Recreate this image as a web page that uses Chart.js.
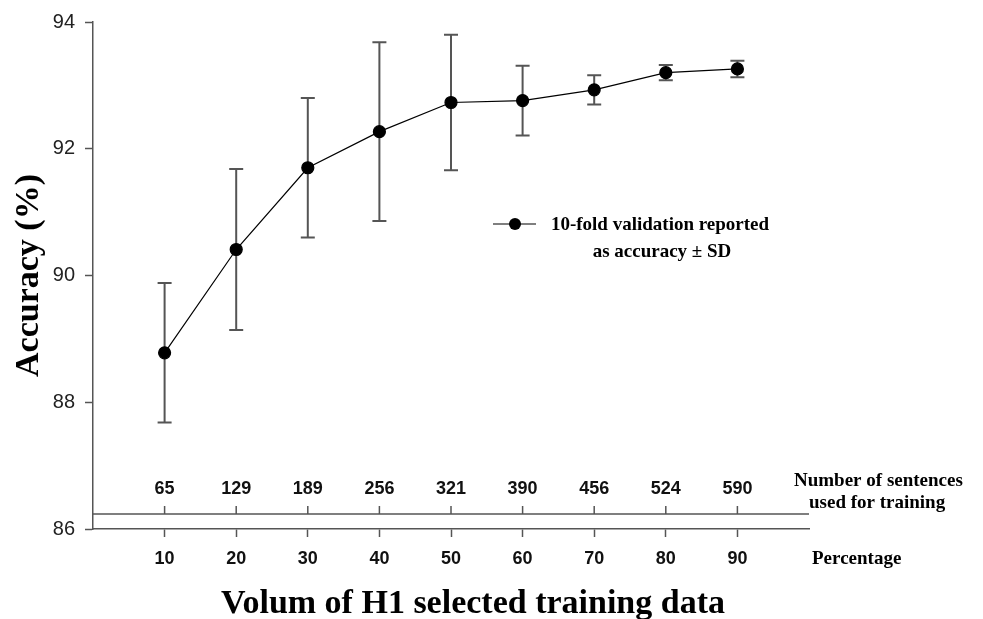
<!DOCTYPE html>
<html>
<head>
<meta charset="utf-8">
<title>Accuracy vs training data</title>
<script src="https://cdn.jsdelivr.net/npm/chart.js@4.4.0/dist/chart.umd.min.js"></script>
<style>
    body { margin: 0; background: #fff; }
    #grafico { display: block; }
</style>
</head>
<body>
<canvas id="grafico" width="983" height="619"></canvas>
<script>
var percentuali = [10, 20, 30, 40, 50, 60, 70, 80, 90];
var frasi = [65, 129, 189, 256, 321, 390, 456, 524, 590];
var accuratezza = [88.78, 90.41, 91.70, 92.27, 92.73, 92.76, 92.93, 93.20, 93.26];
var deviazione = [1.10, 1.27, 1.10, 1.41, 1.07, 0.55, 0.23, 0.12, 0.13];
var tickY = [86, 88, 90, 92, 94];

var grigio = '#555555';
var serif = "'Liberation Serif', 'Times New Roman', serif";
var sans = "'Liberation Sans', Arial, sans-serif";

var punti = [];
for (var i = 0; i < percentuali.length; i++) {
    punti.push({x: percentuali[i], y: accuratezza[i]});
}

// barre di errore, disegnate sotto i punti
var barreErrore = {
    id: 'barreErrore',
    beforeDatasetsDraw: function (chart) {
        var ctx = chart.ctx;
        var x = chart.scales.x;
        var y = chart.scales.y;
        ctx.save();
        ctx.strokeStyle = grigio;
        ctx.lineWidth = 2;
        for (var i = 0; i < percentuali.length; i++) {
            var px = x.getPixelForValue(percentuali[i]);
            var top = y.getPixelForValue(accuratezza[i] + deviazione[i]);
            var bot = y.getPixelForValue(accuratezza[i] - deviazione[i]);
            ctx.beginPath();
            ctx.moveTo(px, top);
            ctx.lineTo(px, bot);
            ctx.moveTo(px - 7, top);
            ctx.lineTo(px + 7, top);
            ctx.moveTo(px - 7, bot);
            ctx.lineTo(px + 7, bot);
            ctx.stroke();
        }
        ctx.restore();
    }
};

// asse secondario col numero di frasi, titolo x e legenda
var extra = {
    id: 'extra',
    afterDraw: function (chart) {
        var ctx = chart.ctx;
        var area = chart.chartArea;
        var x = chart.scales.x;
        var lineaY = area.bottom - 15;
        ctx.save();
        ctx.strokeStyle = grigio;
        ctx.lineWidth = 1.5;
        ctx.beginPath();
        ctx.moveTo(area.left, lineaY);
        ctx.lineTo(area.right, lineaY);
        for (var i = 0; i < percentuali.length; i++) {
            var px = x.getPixelForValue(percentuali[i]);
            ctx.moveTo(px, lineaY);
            ctx.lineTo(px, lineaY - 8);
        }
        ctx.stroke();

        ctx.fillStyle = '#111';
        ctx.font = 'bold 18px ' + sans;
        ctx.textAlign = 'center';
        ctx.textBaseline = 'middle';
        for (var i = 0; i < frasi.length; i++) {
            ctx.fillText(String(frasi[i]), x.getPixelForValue(percentuali[i]), lineaY - 25);
        }

        ctx.font = 'bold 19px ' + serif;
        ctx.fillStyle = '#000';
        ctx.textAlign = 'left';
        ctx.fillText('Number of sentences', 794, 481);
        ctx.fillText('used for training', 809, 503);
        ctx.fillText('Percentage', 812, 559);

        // titolo asse x
        ctx.font = 'bold 34px ' + serif;
        ctx.textAlign = 'center';
        ctx.textBaseline = 'alphabetic';
        ctx.fillText('Volum of H1 selected training data', 473, 613);

        // legenda
        ctx.textBaseline = 'middle';
        ctx.font = 'bold 19px ' + serif;
        ctx.strokeStyle = '#000';
        ctx.lineWidth = 1.2;
        ctx.beginPath();
        ctx.moveTo(493, 224);
        ctx.lineTo(536, 224);
        ctx.stroke();
        ctx.beginPath();
        ctx.arc(515, 224, 6, 0, Math.PI * 2);
        ctx.fill();
        ctx.fillText('10-fold validation reported', 660, 225);
        ctx.fillText('as accuracy \u00b1 SD', 662, 252);
        ctx.restore();
    }
};

var chart = new Chart(document.getElementById('grafico'), {
    type: 'line',
    data: {
        datasets: [{
            label: '10-fold validation reported as accuracy \u00b1 SD',
            data: punti,
            borderColor: '#000',
            borderWidth: 1.2,
            backgroundColor: '#000',
            pointBackgroundColor: '#000',
            pointBorderColor: '#000',
            pointRadius: 6,
            tension: 0
        }]
    },
    options: {
        responsive: false,
        animation: false,
        layout: {padding: {left: 0, right: 174, top: 22, bottom: 0}},
        plugins: {
            legend: {display: false},
            tooltip: {enabled: false}
        },
        scales: {
            x: {
                type: 'linear',
                min: 0,
                max: 100,
                afterBuildTicks: function (axis) {
                    axis.ticks = percentuali.map(function (v) { return {value: v}; });
                },
                afterFit: function (axis) { axis.height = 90; },
                border: {display: true, color: grigio, width: 1.5},
                grid: {drawOnChartArea: false, drawTicks: true, tickLength: 8, tickColor: grigio, tickWidth: 1.5},
                ticks: {
                    color: '#111',
                    padding: 11,
                    maxRotation: 0,
                    font: {family: sans, size: 18, weight: 'bold'}
                }
            },
            y: {
                min: 86,
                max: 94,
                afterBuildTicks: function (axis) {
                    axis.ticks = tickY.map(function (v) { return {value: v}; });
                },
                afterFit: function (axis) { axis.width = 93; },
                border: {display: true, color: grigio, width: 1.5},
                grid: {drawOnChartArea: false, drawTicks: true, tickLength: 8, tickColor: grigio, tickWidth: 1.5},
                ticks: {
                    color: '#222',
                    padding: 10,
                    font: {family: sans, size: 20}
                },
                title: {
                    display: true,
                    text: 'Accuracy (%)',
                    color: '#000',
                    padding: {top: 9, bottom: 0},
                    font: {family: serif, size: 34, weight: 'bold'}
                }
            }
        }
    },
    plugins: [barreErrore, extra]
});
</script>
</body>
</html>
